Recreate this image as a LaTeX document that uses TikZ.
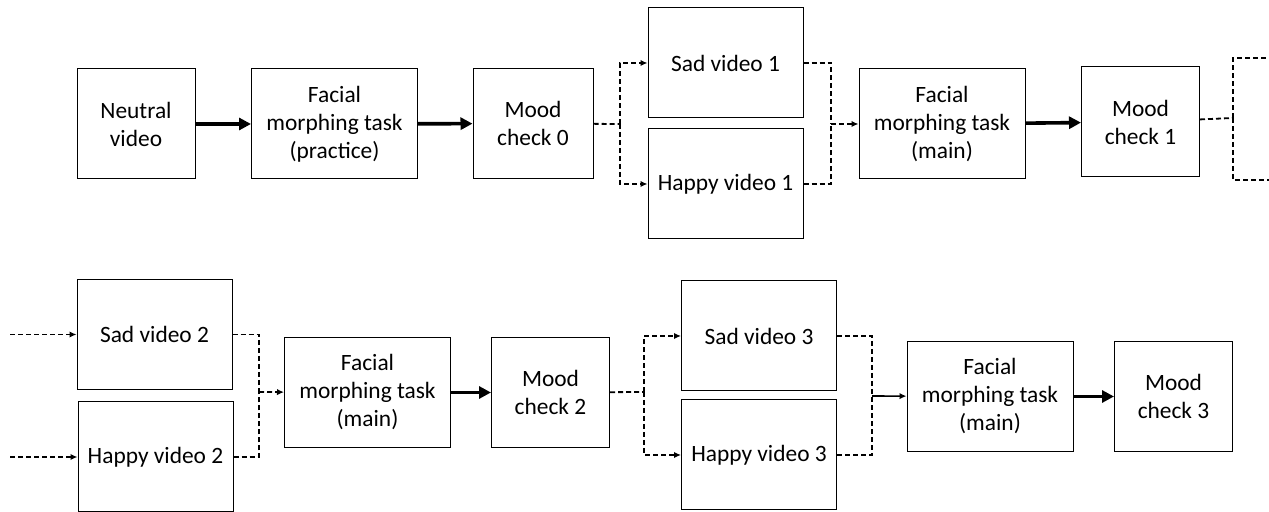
\documentclass[tikz,border=0pt]{standalone}
\usepackage{fontspec}
\setmainfont{Carlito}
\usetikzlibrary{arrows.meta}

\begin{document}
\begin{tikzpicture}[x=0.5pt,y=-0.5pt,
  box/.style={draw,line width=0.5pt,minimum height=55pt,inner sep=1pt,align=center,
    font=\fontsize{11.7}{14}\selectfont},
  short/.style={box,minimum width=59pt},
  task/.style={box,minimum width=83pt},
  vid/.style={box,minimum width=77.5pt},
  flow/.style={line width=1.8pt,-{Triangle[length=6pt,width=6pt]}},
  branch/.style={line width=0.9pt,dash pattern=on 2.5pt off 1.5pt},
  branchto/.style={branch,-{Latex[length=3.5pt,width=3.2pt]}},
  thinto/.style={line width=0.8pt,-{Latex[length=3.5pt,width=3.2pt]}}]
  \useasboundingbox (0,0) rectangle (1269,512);
  \clip (0,0) rectangle (1269,512);

  % first row
  \node[short] (neutral) at (136,124) {Neutral\\video};
  \node[task] (practice) at (334.5,124) {Facial\\morphing task\\(practice)};
  \node[short,minimum width=60pt] (mood0) at (533,123.5) {Mood\\check 0};
  \node[vid] (sad1) at (725.5,63) {Sad video 1};
  \node[vid] (happy1) at (725.5,184) {Happy video 1};
  \node[task] (main1) at (942,124) {Facial\\morphing task\\(main)};
  \node[short] (mood1) at (1140.5,122) {Mood\\check 1};

  % second row
  \node[vid] (sad2) at (154.5,334.5) {Sad video 2};
  \node[vid] (happy2) at (155.5,457) {Happy video 2};
  \node[task] (main2) at (367.5,392.5) {Facial\\morphing task\\(main)};
  \node[short] (mood2) at (550.5,392.5) {Mood\\check 2};
  \node[vid] (sad3) at (759,336) {Sad video 3};
  \node[vid] (happy3) at (759,455) {Happy video 3};
  \node[task] (main3) at (990,396.5) {Facial\\morphing task\\(main)};
  \node[short] (mood3) at (1173.5,396.5) {Mood\\check 3};

  % split and merge points
  \coordinate (s0) at (620,124);
  \coordinate (m1) at (831,124);
  \coordinate (s1) at (1233,118);
  \coordinate (out1) at (1269,58);
  \coordinate (out2) at (1269,180);
  \coordinate (in1) at (10,334.5);
  \coordinate (in2) at (10,457);
  \coordinate (m2) at (259,392);
  \coordinate (s2) at (644,392);
  \coordinate (m3) at (872,396);

  \draw[flow] (neutral) -- (practice);
  \draw[flow] (practice) -- (mood0);
  \draw[branch] (mood0) -- (s0);
  \draw[branchto] (s0) |- (sad1);
  \draw[branchto] (s0) |- (happy1);
  \draw[branch] (sad1) -| (m1);
  \draw[branch] (happy1) -| (m1);
  \draw[branchto] (m1) -- (main1);
  \draw[flow] (main1) -- (mood1);
  \draw[branch] (mood1) -- (s1);
  \draw[branch] (s1) |- (out1);
  \draw[branch] (s1) |- (out2);

  \draw[branchto] (in1) -- (sad2);
  \draw[branchto] (in2) -- (happy2);
  \draw[branch] (sad2) -| (m2);
  \draw[branch] (happy2) -| (m2);
  \draw[branchto] (m2) -- (main2);
  \draw[flow] (main2) -- (mood2);
  \draw[branch] (mood2) -- (s2);
  \draw[branchto] (s2) |- (sad3);
  \draw[branchto] (s2) |- (happy3);
  \draw[branch] (sad3) -| (m3);
  \draw[branch] (happy3) -| (m3);
  \draw[thinto] (m3) -- (main3);
  \draw[flow] (main3) -- (mood3);
\end{tikzpicture}
\end{document}
